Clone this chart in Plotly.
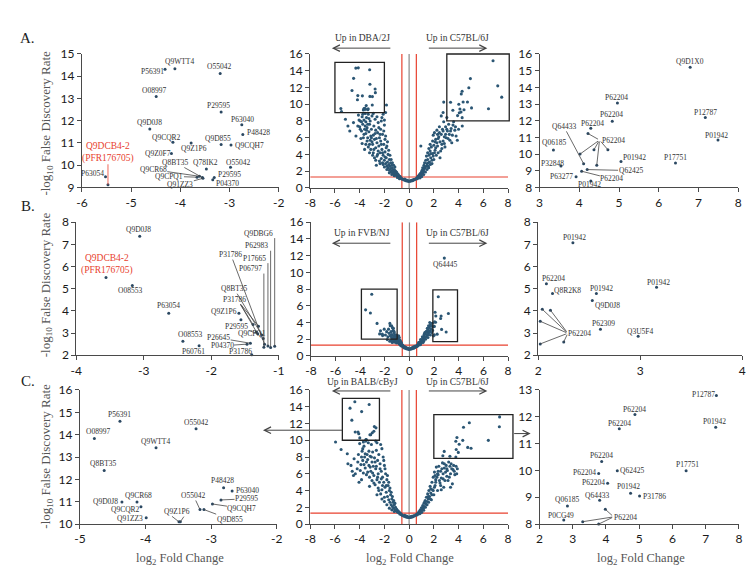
import plotly.graph_objects as go

W, H = 754, 575

# ---------------- Row A : DBA/2J vs C57BL/6J ----------------
A_L_NAMES = ["Q9WTT4", "P56391", "O55042", "O08997", "P29595", "P63040", "P48428", "Q9D0J8",
             "Q9CQR2", "Q9Z1P6", "Q9D855", "Q9CQH7", "Q9Z0F7", "Q9DCB4-2", "P63054", "Q78IK2",
             "O55042", "Q8BT35", "Q9CR68", "Q9CPQ1", "Q91ZZ3", "P29595", "P04370"]
A_L_X = [-4.11, -4.31, -3.19, -4.49, -3.17, -2.75, -2.73, -4.62, -4.15, -3.78, -3.17, -2.97,
         -4.18, -5.47, -5.52, -3.47, -2.98, -3.55, -3.61, -3.66, -3.54, -3.31, -3.34]
A_L_Y = [14.34, 14.31, 14.12, 13.09, 12.39, 11.82, 11.38, 11.63, 11.03, 11.0, 10.93, 10.91,
         10.53, 9.12, 9.48, 9.83, 9.91, 9.44, 9.5, 9.46, 9.41, 9.45, 9.34]

A_R_NAMES = ["Q9D1X0", "P62204", "P12787", "P62204", "P62204", "P01942", "Q06185", "Q64433",
             "P62204", "P62204", "P62204", "P62204", "P62204", "P01942", "P17751", "P32848",
             "Q62425", "P63277", "P62204", "P01942"]
A_R_X = [6.79, 4.96, 7.17, 4.83, 4.29, 7.49, 3.35, 4.11, 4.22, 4.02, 4.37, 4.44, 4.72, 5.05,
         6.42, 3.54, 4.2, 3.92, 4.06, 4.29]
A_R_Y = [15.2, 13.06, 12.19, 11.97, 11.54, 10.84, 10.24, 9.42, 11.23, 10.0, 10.26, 9.33, 10.26,
         9.56, 9.46, 9.28, 9.07, 8.64, 8.97, 8.39]

A_BULK = [(-0.05, 0.78), (0.05, 0.8), (-0.15, 0.82), (0.15, 0.83), (-0.25, 0.85), (0.25, 0.86),
          (-0.3, 0.9), (0.32, 0.9), (-0.4, 0.95), (0.4, 0.97), (-0.45, 1.0), (0.48, 1.02),
          (-0.55, 1.05), (0.55, 1.1), (-0.6, 1.1), (0.62, 1.15), (-0.2, 0.95), (0.2, 0.92),
          (-0.35, 1.05), (0.35, 1.0), (-0.1, 0.88), (0.1, 0.86),
          (-0.65, 1.15), (-0.7, 1.2), (-0.72, 1.35), (-0.75, 1.25), (-0.8, 1.3), (-0.82, 1.45),
          (-0.85, 1.4), (-0.88, 1.6), (-0.9, 1.35), (-0.92, 1.5), (-0.95, 1.7), (-1.0, 1.45),
          (-1.0, 1.6), (-1.02, 1.9), (-1.05, 1.55), (-1.1, 1.7), (-1.1, 2.0), (-1.15, 1.8),
          (-1.2, 1.65), (-1.2, 2.2), (-1.25, 1.9), (-1.3, 2.1), (-1.3, 1.75), (-1.35, 2.4),
          (-1.4, 2.0), (-1.4, 2.7), (-1.45, 1.9), (-1.5, 2.3), (-1.5, 3.0), (-1.55, 2.6),
          (-1.6, 2.1), (-1.6, 3.4), (-1.65, 2.8), (-1.7, 2.4), (-1.7, 4.0), (-1.75, 3.1),
          (-1.8, 2.6), (-1.8, 5.0), (-1.85, 3.6), (-1.9, 2.9), (-1.9, 6.2), (-1.95, 4.3),
          (-2.0, 3.3), (-2.0, 7.5), (-2.05, 5.2), (-2.1, 3.9), (-2.1, 2.8), (-2.15, 6.4),
          (-2.2, 4.6), (-2.2, 8.4), (-2.25, 3.5), (-2.3, 5.6), (-2.3, 7.0), (-2.35, 4.2),
          (-2.4, 6.0), (-2.4, 3.2), (-2.45, 5.0), (-2.5, 7.8), (-2.5, 4.4), (-2.55, 6.6),
          (-2.6, 3.8), (-2.6, 5.4), (-2.65, 2.7), (-2.7, 6.9), (-2.7, 4.8), (-2.75, 8.2),
          (-2.8, 5.8), (-2.8, 3.6), (-2.85, 7.4), (-2.9, 4.2), (-2.9, 6.3), (-2.95, 3.9),
          (-3.0, 8.6), (-3.0, 5.5), (-3.05, 7.0), (-3.1, 4.6), (-3.1, 6.2), (-3.15, 8.0),
          (-3.2, 5.2), (-3.2, 7.6), (-3.25, 6.7), (-3.3, 4.9), (-3.3, 8.8), (-3.35, 6.0),
          (-3.4, 7.2), (-3.4, 5.6), (-3.45, 8.4), (-3.5, 6.5), (-3.5, 7.9), (-3.55, 8.9),
          (-3.6, 4.6), (-3.6, 7.0), (-3.65, 8.1), (-3.7, 6.0), (-3.7, 9.3), (-3.75, 7.6),
          (-3.8, 8.5), (-3.85, 6.8), (-3.9, 5.9), (-3.95, 8.0), (-4.0, 7.3), (-4.1, 8.7),
          (-4.15, 7.4), (-4.3, 6.2), (-4.5, 7.8), (-4.8, 6.8), (-4.95, 7.4), (-5.15, 8.2),
          (-1.83, 9.9), (-1.9, 9.0), (-2.1, 8.8), (-2.0, 8.1),
          (-1.15, 2.5), (-1.25, 2.7), (-1.35, 3.0), (-1.45, 3.4), (-1.55, 3.9), (-1.65, 4.5),
          (-1.75, 5.5), (-1.85, 4.8), (-1.95, 5.8), (-2.05, 6.8), (-2.15, 4.2), (-2.25, 5.2),
          (-2.35, 6.4), (-2.45, 7.2), (-2.55, 4.0), (-2.65, 5.9), (-2.75, 6.5), (-2.85, 4.6),
          (-2.95, 5.2), (-3.05, 6.0), (-3.15, 5.7), (-3.25, 8.3), (-3.35, 7.6), (-3.45, 6.9),
          (-3.55, 7.4), (-3.65, 6.4), (-3.75, 8.8), (-3.85, 7.9), (-3.95, 7.0), (-4.05, 8.1),
          (-2.25, 8.0), (-2.6, 8.5), (-2.9, 8.9), (-1.6, 1.8), (-1.8, 2.2), (-2.0, 2.5),
          (-1.4, 1.6), (-1.2, 1.45), (-0.95, 1.25), (-0.78, 1.1), (-2.35, 2.9), (-2.7, 3.3),
          (-1.95, 3.7), (-2.15, 3.0), (-3.2, 4.2), (-3.5, 5.2), (-3.8, 5.3),
          (0.65, 1.1), (0.7, 1.25), (0.72, 1.4), (0.75, 1.2), (0.8, 1.5), (0.82, 1.3),
          (0.85, 1.6), (0.9, 1.4), (0.92, 1.75), (0.95, 1.5), (1.0, 1.9), (1.0, 1.6),
          (1.05, 2.1), (1.1, 1.8), (1.1, 2.4), (1.15, 2.0), (1.2, 2.7), (1.2, 2.2),
          (1.25, 3.0), (1.3, 2.4), (1.35, 3.3), (1.4, 2.6), (1.4, 3.8), (1.45, 2.9),
          (1.5, 4.2), (1.5, 3.4), (1.55, 2.6), (1.6, 3.9), (1.6, 4.7), (1.65, 3.1),
          (1.7, 4.4), (1.7, 5.2), (1.75, 3.6), (1.8, 4.9), (1.85, 2.9), (1.9, 5.6),
          (1.9, 4.1), (1.95, 6.3), (2.0, 3.4), (2.0, 5.1), (2.05, 6.6), (2.1, 4.5),
          (2.15, 5.8), (2.2, 3.9), (2.25, 6.9), (2.3, 5.0), (2.35, 4.2), (2.4, 6.1),
          (2.45, 7.3), (2.5, 5.5), (2.5, 3.6), (2.6, 6.4), (2.65, 4.7), (2.7, 7.0),
          (2.75, 5.6), (2.8, 7.9), (2.85, 6.1), (2.9, 4.9), (2.95, 7.3), (3.0, 6.0),
          (3.05, 8.4), (3.1, 6.8), (3.2, 7.6), (3.25, 6.4), (3.3, 5.7), (3.4, 7.1),
          (3.5, 6.3), (3.6, 7.9), (3.7, 6.9), (3.8, 6.2), (3.9, 5.7), (4.0, 7.0),
          (4.3, 7.4), (0.95, 5.0), (2.8, 10.25), (2.75, 9.0), (2.6, 8.6),
          (0.88, 1.2), (1.02, 1.35), (1.18, 1.6), (1.32, 1.9), (1.45, 2.2), (1.58, 2.4),
          (1.72, 2.8), (1.85, 3.3), (1.95, 3.8), (2.05, 4.2), (2.15, 4.8), (2.25, 5.4),
          (2.35, 5.9), (2.45, 6.6), (2.55, 4.4), (2.65, 5.2), (2.75, 6.8), (2.85, 5.3),
          (2.95, 6.4), (3.05, 7.0), (3.15, 5.9), (3.35, 6.8), (3.45, 5.4), (3.55, 7.5),
          (3.75, 7.3), (1.25, 2.5), (1.55, 3.0), (1.75, 4.1), (2.1, 5.5), (2.3, 6.4)]

# ---------------- Row B : FVB/NJ vs C57BL/6J ----------------
B_L_NAMES = ["Q9D0J8", "Q9DCB4-2", "O08553", "P63054", "O08553", "P60761", "Q9Z1P6", "",
             "P31786", "P31786", "P31786", "Q8BT35", "P31786", "P29595", "Q9CPQ1", "P26645",
             "P04370", "P31786", "Q9DBG6", "P62983", "P17665", "P06797"]
B_L_X = [-3.06, -3.56, -3.17, -2.63, -2.42, -2.18, -1.59, -1.56, -1.38, -1.3, -1.33, -1.25,
         -1.21, -1.31, -1.23, -1.42, -1.47, -1.4, -1.06, -1.12, -1.16, -1.22]
B_L_Y = [7.37, 5.51, 5.14, 3.89, 2.63, 2.43, 3.89, 3.6, 3.38, 3.31, 3.05, 2.91, 2.5, 2.97,
         2.75, 2.54, 2.5, 2.02, 2.4, 2.35, 2.42, 2.36]

B_R_NAMES = ["P01942", "P62204", "Q8R2K8", "P01942", "Q9D0J8", "P01942", "P62309", "Q3U5F4",
             "P62204", "P62204", "P62204", "P62204", "P62204"]
B_R_X = [2.34, 2.08, 2.14, 2.57, 2.53, 3.16, 2.61, 2.98, 2.04, 2.12, 2.02, 2.02, 2.25]
B_R_Y = [7.07, 5.22, 4.78, 4.78, 4.47, 5.07, 3.17, 2.86, 4.07, 4.03, 3.53, 2.51, 2.6]

B_OTHER_NAMES = ["Q64445"]
B_OTHER_X = [2.83]
B_OTHER_Y = [11.7]

B_BULK = [(-0.05, 0.78), (0.05, 0.8), (-0.15, 0.82), (0.15, 0.84), (-0.25, 0.86), (0.25, 0.88),
          (-0.35, 0.92), (0.35, 0.93), (-0.45, 0.98), (0.45, 1.0), (-0.2, 0.95), (0.2, 0.97),
          (-0.1, 0.9), (0.1, 0.88), (-0.3, 1.02), (0.3, 1.05), (-0.5, 1.08), (0.52, 1.1),
          (-0.4, 1.12), (0.42, 1.15),
          (-0.6, 1.15), (-0.62, 1.3), (-0.68, 1.22), (-0.7, 1.45), (-0.74, 1.3), (-0.78, 1.6),
          (-0.8, 1.4), (-0.84, 1.75), (-0.86, 1.5), (-0.9, 1.9), (-0.92, 1.6), (-0.95, 2.1),
          (-0.97, 1.7), (-1.0, 2.3), (-1.02, 1.8), (-1.05, 1.55), (-1.08, 2.0), (-1.1, 1.75),
          (-1.15, 1.9), (-1.2, 1.65), (-1.25, 1.85), (-1.3, 1.7), (-1.35, 1.9), (-1.4, 1.6),
          (-1.5, 1.85), (-1.6, 1.75), (-1.8, 1.95), (-0.88, 2.4), (-0.82, 2.2), (-0.75, 1.85),
          (-0.66, 1.6), (-1.12, 2.15), (-1.45, 2.2), (-1.55, 2.4), (-1.65, 2.7), (-1.75, 2.3),
          (-1.85, 2.9), (-1.95, 2.5), (-2.05, 3.2), (-2.2, 2.6), (-2.35, 3.0), (-1.7, 3.2),
          (-1.5, 2.9), (-1.45, 3.6),
          (-0.55, 1.3), (-0.72, 1.7), (-0.9, 2.0), (-1.05, 2.5), (-1.2, 2.05), (-1.35, 2.2),
          (-0.65, 1.4), (-0.8, 1.9),
          (0.6, 1.12), (0.64, 1.3), (0.68, 1.2), (0.72, 1.42), (0.76, 1.3), (0.8, 1.55),
          (0.84, 1.45), (0.88, 1.7), (0.92, 1.55), (0.96, 1.85), (1.0, 1.65), (1.04, 2.0),
          (1.08, 1.8), (1.12, 2.2), (1.16, 1.95), (1.2, 2.4), (1.25, 2.1), (1.3, 2.65),
          (1.35, 2.3), (1.4, 2.9), (1.45, 2.5), (1.5, 3.15), (1.55, 2.75), (1.6, 3.4),
          (1.65, 3.0), (1.7, 3.7), (1.75, 3.25), (1.8, 2.8), (1.85, 3.9), (1.9, 3.5),
          (1.3, 2.0), (1.5, 2.2), (1.7, 2.5), (1.1, 1.6), (0.9, 1.35), (1.55, 3.6),
          (1.65, 4.0), (1.45, 3.3), (1.25, 2.8), (1.95, 2.4),
          (0.58, 1.25), (0.74, 1.6), (0.9, 1.95), (1.05, 2.3), (1.2, 2.6), (1.35, 2.9),
          (1.5, 2.55), (1.62, 2.9), (1.75, 3.6), (1.88, 3.05), (1.15, 1.75), (0.82, 1.6)]

# ---------------- Row C : BALB/cByJ vs C57BL/6J ----------------
C_L_NAMES = ["P56391", "O08997", "O55042", "Q9WTT4", "Q8BT35", "P48428", "P63040", "P29595",
             "Q9CQH7", "O55042", "Q9D855", "Q9Z1P6", "Q9Z1P6", "Q9D0J8", "Q9CR68", "Q9CQR2",
             "Q91ZZ3"]
C_L_X = [-4.39, -4.78, -3.23, -3.84, -4.63, -2.81, -2.68, -2.85, -2.98, -3.17, -3.11, -3.49,
         -3.47, -4.36, -4.13, -4.07, -3.99]
C_L_Y = [14.6, 13.83, 14.26, 13.42, 12.4, 11.63, 11.48, 11.08, 10.9, 10.65, 10.65, 10.1, 10.1,
         10.99, 10.99, 10.78, 10.28]

C_R_NAMES = ["P12787", "P62204", "P62204", "P01942", "P62204", "P62204", "Q62425", "P17751",
             "P62204", "P01942", "P31786", "Q64433", "Q06185", "P0CG49", "P62204", "P62204",
             "P62204"]
C_R_X = [7.32, 4.87, 4.4, 7.3, 3.87, 3.78, 4.34, 6.41, 4.05, 4.74, 5.01, 3.81, 2.84, 2.73,
         3.98, 3.3, 3.78]
C_R_Y = [12.79, 12.09, 11.55, 11.61, 10.33, 9.89, 9.99, 9.99, 9.52, 9.15, 9.05, 8.89, 8.67,
         8.15, 8.55, 8.09, 8.0]

C_BULK = [(-0.05, 0.78), (0.05, 0.8), (-0.15, 0.82), (0.15, 0.83), (-0.25, 0.85), (0.25, 0.86),
          (-0.3, 0.9), (0.32, 0.9), (-0.4, 0.95), (0.4, 0.97), (-0.45, 1.0), (0.48, 1.02),
          (-0.55, 1.05), (0.55, 1.1), (-0.6, 1.1), (0.62, 1.15), (-0.2, 0.95), (0.2, 0.92),
          (-0.35, 1.05), (0.35, 1.0), (-0.1, 0.88), (0.1, 0.86),
          (-0.65, 1.15), (-0.7, 1.3), (-0.75, 1.2), (-0.8, 1.45), (-0.85, 1.35), (-0.9, 1.6),
          (-0.95, 1.45), (-1.0, 1.75), (-1.05, 1.6), (-1.1, 2.0), (-1.15, 1.7), (-1.2, 2.3),
          (-1.25, 1.9), (-1.3, 2.6), (-1.35, 2.1), (-1.4, 3.0), (-1.45, 2.3), (-1.5, 3.5),
          (-1.55, 2.6), (-1.6, 4.0), (-1.65, 2.9), (-1.7, 4.6), (-1.75, 3.3), (-1.8, 5.3),
          (-1.85, 3.8), (-1.9, 6.0), (-1.95, 4.4), (-2.0, 7.0), (-2.0, 3.2), (-2.05, 5.0),
          (-2.1, 8.0), (-2.15, 5.6), (-2.2, 4.1), (-2.2, 9.0), (-2.25, 6.3), (-2.3, 3.6),
          (-2.35, 7.2), (-2.4, 5.0), (-2.45, 8.3), (-2.5, 6.0), (-2.5, 4.3), (-2.55, 7.6),
          (-2.6, 5.3), (-2.65, 8.8), (-2.7, 6.6), (-2.7, 9.9), (-2.75, 4.7), (-2.8, 7.9),
          (-2.85, 5.8), (-2.9, 6.9), (-2.95, 8.6), (-3.0, 5.2), (-3.0, 7.4), (-3.05, 9.5),
          (-3.1, 6.3), (-3.15, 8.1), (-3.2, 5.6), (-3.25, 7.0), (-3.3, 9.7), (-3.35, 6.2),
          (-3.4, 8.3), (-3.45, 7.4), (-3.5, 9.9), (-3.55, 6.7), (-3.6, 8.0), (-3.65, 9.3),
          (-3.7, 6.1), (-3.75, 7.6), (-3.8, 8.7), (-3.85, 5.3), (-3.9, 7.1), (-4.0, 9.6),
          (-4.05, 5.0), (-4.1, 8.3), (-4.2, 6.6), (-4.35, 6.0), (-4.45, 7.8), (-4.6, 6.3),
          (-4.95, 7.2), (-5.0, 8.4), (-5.5, 8.9), (-5.95, 9.8), (-3.7, 9.8),
          (-1.15, 2.5), (-1.25, 2.8), (-1.35, 3.3), (-1.45, 3.8), (-1.55, 4.3), (-1.65, 5.0),
          (-1.75, 5.8), (-1.85, 4.6), (-1.95, 6.6), (-2.05, 7.6), (-2.15, 4.6), (-2.25, 5.4),
          (-2.35, 6.6), (-2.45, 4.0), (-2.55, 5.6), (-2.65, 6.9), (-2.75, 7.4), (-2.85, 4.9),
          (-2.95, 6.1), (-3.05, 8.0), (-3.15, 6.8), (-3.25, 8.7), (-3.35, 7.7), (-3.45, 5.9),
          (-3.55, 8.4), (-3.65, 7.1), (-3.75, 9.0), (-3.85, 8.0), (-3.95, 6.4), (-4.15, 7.4),
          (-2.3, 9.5), (-2.6, 9.7), (-1.6, 1.9), (-1.8, 2.3), (-2.0, 2.7), (-1.4, 1.7),
          (-1.2, 1.5), (-2.2, 3.0), (-2.6, 3.5), (-3.2, 4.5), (-4.5, 5.8), (-4.7, 7.0),
          (0.65, 1.1), (0.7, 1.3), (0.75, 1.2), (0.8, 1.5), (0.85, 1.4), (0.9, 1.7),
          (0.95, 1.55), (1.0, 1.95), (1.05, 1.7), (1.1, 2.2), (1.15, 1.9), (1.2, 2.5),
          (1.25, 2.1), (1.3, 2.8), (1.35, 2.4), (1.4, 3.2), (1.45, 2.7), (1.5, 3.6),
          (1.55, 3.0), (1.6, 4.0), (1.65, 3.3), (1.7, 4.5), (1.75, 3.7), (1.8, 2.9),
          (1.85, 5.0), (1.9, 4.1), (1.95, 5.6), (2.0, 3.5), (2.05, 6.2), (2.1, 4.6),
          (2.15, 5.3), (2.2, 6.8), (2.3, 4.0), (2.35, 5.9), (2.4, 6.9), (2.5, 4.9),
          (2.55, 6.3), (2.6, 5.5), (2.7, 7.3), (2.75, 6.0), (2.8, 4.4), (2.85, 6.7),
          (2.9, 5.2), (3.0, 7.0), (3.05, 5.7), (3.1, 6.4), (3.2, 7.4), (3.25, 5.6),
          (3.3, 6.9), (3.35, 4.4), (3.4, 7.2), (3.5, 4.8), (3.55, 6.5), (3.6, 7.0),
          (3.7, 5.9), (3.8, 6.9), (3.9, 6.6), (2.6, 4.1),
          (0.88, 1.25), (1.02, 1.4), (1.18, 1.65), (1.32, 2.0), (1.45, 2.3), (1.58, 2.6),
          (1.72, 3.0), (1.85, 3.5), (1.95, 4.0), (2.05, 4.4), (2.15, 5.0), (2.25, 5.6),
          (2.35, 6.3), (2.45, 5.2), (2.55, 4.6), (2.65, 6.6), (2.75, 5.4), (2.85, 7.2),
          (2.95, 6.2), (3.05, 6.6), (3.15, 5.2), (3.35, 6.0), (3.45, 6.6), (3.65, 6.3),
          (3.85, 6.0), (1.25, 2.6), (1.55, 3.3), (1.75, 4.2), (2.1, 5.8), (2.3, 6.0)]

# ---------------- text of the figure ----------------
ROW_LETTERS = ["A.", "B.", "C."]
UP_LEFT = ["Up in DBA/2J", "Up in FVB/NJ", "Up in BALB/cByJ"]
UP_RIGHT = "Up in C57BL/6J"
Y_TITLE = "-log<sub>10</sub> False Discovery Rate"
X_TITLE = "log<sub>2</sub> Fold Change"
RED_NAME = "Q9DCB4-2"
RED_TEXT = "Q9DCB4-2<br>(PFR176705)"
FC_CUT = 0.585   # log2(1.5)
FDR_CUT = 1.3    # -log10(0.05)

# ---------------- label placement (layout, data units) ----------------
A_L_LAB = [(-4.01, 14.66, None), (-4.56, 14.2, None), (-3.21, 14.42, None), (-4.54, 13.38, None),
           (-3.23, 12.68, None), (-2.73, 12.07, None), (-2.42, 11.45, None), (-4.63, 11.92, None),
           (-4.28, 11.25, None), (-3.72, 10.75, None), (-3.24, 11.18, None), (-2.6, 10.87, None),
           (-4.46, 10.53, None), (-5.47, 10.58, 'a'), (-5.78, 9.62, None), (-3.49, 10.14, None),
           (-2.82, 10.14, None), (-4.1, 10.12, 'a'), (-4.55, 9.8, 'a'), (-4.22, 9.5, 'a'),
           (-4.0, 9.13, 'a'), (-3.0, 9.6, None), (-3.05, 9.19, None)]
A_R_LAB = [(6.78, 15.55, None), (4.93, 13.41, None), (7.17, 12.51, None), (4.8, 12.4, None),
           (4.34, 11.85, None), (7.44, 11.11, None), (3.37, 10.69, None), (3.61, 11.66, 'a'),
           (4.85, 10.84, (4.51, 10.84)), (None, None, (4.51, 10.84)), (None, None, (4.51, 10.84)),
           (None, None, (4.51, 10.84)), (None, None, (4.51, 10.84)), (5.38, 9.79, None),
           (6.42, 9.79, None), (3.32, 9.42, None), (5.29, 9.01, 'a'), (3.55, 8.66, None),
           (4.82, 8.51, 'a'), (4.27, 8.16, None)]
B_L_LAB = [(-3.08, 7.67, None), (-3.55, 6.08, None), (-3.21, 4.92, None), (-2.63, 4.23, None),
           (-2.32, 2.93, None), (-2.27, 2.18, None), (-1.81, 3.97, None), (None, None, None),
           (-1.66, 4.5, (-1.58, 4.36)), (None, None, (-1.58, 4.36)), (None, None, (-1.58, 4.36)),
           (-1.66, 5.0, 'a'), (-1.71, 6.54, 'a'), (-1.62, 3.3, 'a'), (-1.4, 2.98, 'a'),
           (-1.89, 2.78, 'a'), (-1.84, 2.42, 'a'), (-1.57, 2.18, None),
           (-1.3, 7.5, (-1.06, 7.35)), (-1.33, 6.93, (-1.12, 6.78)),
           (-1.36, 6.38, (-1.16, 6.22)), (-1.42, 5.9, (-1.22, 5.75))]
B_R_LAB = [(2.36, 7.3, None), (2.15, 5.44, None), (2.29, 4.93, None), (2.62, 5.03, None),
           (2.68, 4.24, None), (3.18, 5.28, None), (2.64, 3.42, None), (3.0, 3.05, None),
           (2.4, 2.99, (2.29, 2.99)), (None, None, (2.29, 2.99)), (None, None, (2.29, 2.99)),
           (None, None, (2.29, 2.99)), (None, None, (2.29, 2.99))]
B_OTHER_LAB = [(2.9, 10.9, None)]
C_L_LAB = [(-4.4, 14.91, None), (-4.73, 14.13, None), (-3.23, 14.53, None), (-3.85, 13.68, None),
           (-4.64, 12.72, None), (-2.83, 11.93, None), (-2.45, 11.51, None), (-2.46, 11.13, 'a'),
           (-2.53, 10.7, 'a'), (-3.27, 11.28, 'a'), (-2.72, 10.22, 'a'),
           (-3.52, 10.58, (-3.62, 10.4)), (None, None, (-3.4, 10.4)), (-4.61, 10.99, None),
           (-4.11, 11.29, None), (-4.31, 10.65, None), (-4.23, 10.26, None)]
C_R_LAB = [(6.92, 12.83, None), (4.86, 12.28, None), (4.4, 11.76, None), (7.26, 11.82, None),
           (3.87, 10.55, None), (3.36, 9.91, None), (4.79, 9.98, None), (6.46, 10.21, None),
           (3.63, 9.54, None), (4.69, 9.4, None), (5.47, 9.02, None), (3.74, 9.08, None),
           (2.84, 8.91, None), (2.66, 8.31, None), (4.6, 8.25, (4.23, 8.27)),
           (None, None, (4.23, 8.27)), (None, None, (4.23, 8.27))]

# ---------------- geometry ----------------
DOM_PX = {1: ((69, 269), (39, 176)), 2: ((301, 502), (39, 176.5)), 3: ((534, 736), (39, 176)),
          4: ((63.3, 269), (211.7, 348.3)), 5: ((301.7, 502), (211.7, 349)), 6: ((532.7, 740), (211.7, 348.3)),
          7: ((67, 267), (384, 521.7)), 8: ((301, 502), (384, 521.7)), 9: ((534, 736.7), (384, 521.7))}
RANGES = {1: ((-6, -2, 1), (9, 15, 1)), 2: ((-8, 8, 2), (0, 16, 2)), 3: ((3, 8, 1), (8, 16, 1)),
          4: ((-4, -1, 1), (2, 8, 1)), 5: ((-8, 8, 2), (0, 16, 2)), 6: ((2, 4, 1), (2, 8, 1)),
          7: ((-5, -2, 1), (10, 16, 1)), 8: ((-8, 8, 2), (0, 16, 2)), 9: ((2, 8, 1), (8, 13, 1))}
BOXES = {2: [(-6, -2, 9, 15), (3.05, 8.1, 8, 16)],
         5: [(-3.9, -1.0, 2, 8), (1.9, 3.9, 1.7, 7.9)],
         8: [(-5.4, -2.4, 10, 15), (2.0, 8.4, 7.83, 13.05)]}

DOT = '#2b4862'
VDOT = '#2b5674'
RED = '#e8412e'
AX = '#4a4a4a'
TXT = '#333333'
SERIF = 'Liberation Serif, Times New Roman, serif'
SANS = 'Lato, Open Sans, sans-serif'


def ref(k):
    return ('x' if k == 1 else f'x{k}'), ('y' if k == 1 else f'y{k}')


def to_px(k, x, y):
    (px0, px1), (py0, py1) = DOM_PX[k]
    (x0, x1, _), (y0, y1, _) = RANGES[k]
    return px0 + (x - x0) / (x1 - x0) * (px1 - px0), py1 - (y - y0) / (y1 - y0) * (py1 - py0)


def paper_text(px, py, text, font, **kw):
    d = dict(x=px / W, y=1 - py / H, xref='paper', yref='paper', text=text, showarrow=False,
             xanchor='center', yanchor='middle', font=font)
    d.update(kw)
    return d


def paper_arrow(tip_px, tip_py, dx, dy):
    return dict(x=tip_px / W, y=1 - tip_py / H, xref='paper', yref='paper', ax=dx, ay=dy,
                text='', showarrow=True, arrowhead=5, arrowsize=1.3, arrowwidth=1,
                arrowcolor='#444', xanchor='center', yanchor='middle')


fig = go.Figure()
layout = dict(width=W, height=H, margin=dict(l=0, r=0, t=0, b=0), showlegend=False,
              plot_bgcolor='white', paper_bgcolor='white')
annotations = []
shapes = []

for k in range(1, 10):
    (px0, px1), (py0, py1) = DOM_PX[k]
    (x0, x1, dx), (y0, y1, dy) = RANGES[k]
    xt = list(range(x0, x1 + 1, dx))
    yt = list(range(y0, y1 + 1, dy))
    xr, yr = ref(k)
    common = dict(showgrid=False, zeroline=False, showline=True, linecolor=AX, linewidth=1,
                  ticks='outside', ticklen=4, tickcolor=AX, tickwidth=1,
                  tickfont=dict(family=SANS, size=12, color='#1a1a1a'), fixedrange=True)
    layout['xaxis' if k == 1 else f'xaxis{k}'] = dict(
        domain=[px0 / W, px1 / W], range=[x0, x1], anchor=yr,
        tickvals=xt, ticktext=[str(t) for t in xt], **common)
    layout['yaxis' if k == 1 else f'yaxis{k}'] = dict(
        domain=[1 - py1 / H, 1 - py0 / H], range=[y0, y1], anchor=xr,
        tickvals=yt, ticktext=[str(t) for t in yt], **common)


def add_panel(k, names, xs, ys, labs):
    xr, yr = ref(k)
    fig.add_trace(go.Scatter(x=xs, y=ys, mode='markers', xaxis=xr, yaxis=yr, cliponaxis=False,
                             marker=dict(size=3, color=DOT), hoverinfo='skip'))
    for n, x, y, (lx, ly, tail) in zip(names, xs, ys, labs):
        red = (n == RED_NAME)
        text = RED_TEXT if red else n
        col = RED if red else TXT
        font = dict(family=SERIF, size=9.5 if red else 7.5, color=col)
        if tail == 'a':
            annotations.append(dict(x=x, y=y, xref=xr, yref=yr, ax=lx, ay=ly, axref=xr, ayref=yr,
                                    text=text, showarrow=True, arrowhead=0, arrowwidth=0.8,
                                    arrowcolor=col if red else '#444', font=font, borderpad=0))
            continue
        if lx is not None:
            annotations.append(dict(x=lx, y=ly, xref=xr, yref=yr, text=text, showarrow=False,
                                    xanchor='center', yanchor='middle', font=font))
        if tail is not None:
            annotations.append(dict(x=x, y=y, xref=xr, yref=yr, ax=tail[0], ay=tail[1],
                                    axref=xr, ayref=yr, text='', showarrow=True, arrowhead=0,
                                    arrowwidth=0.8, arrowcolor='#444'))


add_panel(1, A_L_NAMES, A_L_X, A_L_Y, A_L_LAB)
add_panel(3, A_R_NAMES, A_R_X, A_R_Y, A_R_LAB)
add_panel(4, B_L_NAMES, B_L_X, B_L_Y, B_L_LAB)
add_panel(6, B_R_NAMES, B_R_X, B_R_Y, B_R_LAB)
add_panel(7, C_L_NAMES, C_L_X, C_L_Y, C_L_LAB)
add_panel(9, C_R_NAMES, C_R_X, C_R_Y, C_R_LAB)

# volcano plots
VOLC = {2: (A_L_X + A_R_X + [p[0] for p in A_BULK], A_L_Y + A_R_Y + [p[1] for p in A_BULK]),
        5: (B_L_X + B_R_X + B_OTHER_X + [p[0] for p in B_BULK],
            B_L_Y + B_R_Y + B_OTHER_Y + [p[1] for p in B_BULK]),
        8: (C_L_X + C_R_X + [p[0] for p in C_BULK], C_L_Y + C_R_Y + [p[1] for p in C_BULK])}

for i, k in enumerate([2, 5, 8]):
    xr, yr = ref(k)
    vx, vy = VOLC[k]
    for xv, c in [(-FC_CUT, RED), (FC_CUT, RED), (0, '#8a8a8a')]:
        shapes.append(dict(type='line', xref=xr, yref=yr, x0=xv, x1=xv, y0=0, y1=16,
                           line=dict(color=c, width=1.2), layer='below'))
    shapes.append(dict(type='line', xref=xr, yref=yr, x0=-8, x1=8, y0=FDR_CUT, y1=FDR_CUT,
                       line=dict(color=RED, width=1.2), layer='below'))
    fig.add_trace(go.Scatter(x=vx, y=vy, mode='markers', xaxis=xr, yaxis=yr, cliponaxis=False,
                             marker=dict(size=3.1, color=VDOT), hoverinfo='skip'))
    for (bx0, bx1, by0, by1) in BOXES[k]:
        p0 = to_px(k, bx0, by0)
        p1 = to_px(k, bx1, by1)
        shapes.append(dict(type='rect', xref='paper', yref='paper', x0=p0[0] / W, x1=p1[0] / W,
                           y0=1 - p0[1] / H, y1=1 - p1[1] / H, line=dict(color='#222', width=1.3)))

for n, (lx, ly, _) in zip(B_OTHER_NAMES, B_OTHER_LAB):
    annotations.append(dict(x=lx, y=ly, xref='x5', yref='y5', text=n, showarrow=False,
                            xanchor='center', yanchor='middle',
                            font=dict(family=SERIF, size=7.5, color=TXT)))

# "Up in ..." texts and arrows
UP_TEXT_Y = [22.7, 223.3, 375.7]
UP_ARROW_Y = [33, 233.3, 385]
up_font = dict(family=SERIF, size=9.5, color=TXT)
for i in range(3):
    ty, ay = UP_TEXT_Y[i], UP_ARROW_Y[i]
    annotations.append(paper_text(354, ty, UP_LEFT[i], up_font))
    annotations.append(paper_text(451, ty, UP_RIGHT, up_font))
    annotations.append(paper_arrow(323, ay, 60, 0))
    annotations.append(paper_arrow(481, ay, -60, 0))

# arrows from the C boxes to their zoom panels
lt = to_px(8, -5.4, 11.2)
annotations.append(paper_arrow(253, lt[1], lt[0] - 253, 0))
rt = to_px(8, 8.4, 10.8)
annotations.append(paper_arrow(525, rt[1], rt[0] - 525, 0))

# row letters and axis titles
LETTER_Y = [22.7, 195, 375]
YT_Y = [110, 276, 452]
for i in range(3):
    annotations.append(paper_text(14, LETTER_Y[i], ROW_LETTERS[i],
                                  dict(family=SERIF, size=15, color='#222')))
    annotations.append(paper_text(33, YT_Y[i], Y_TITLE, dict(family=SERIF, size=13, color='#555'),
                                  textangle=-90))
for cx in [169, 402.5, 637]:
    annotations.append(paper_text(cx, 557.5, X_TITLE, dict(family=SERIF, size=12.5, color='#555')))

layout['annotations'] = annotations
layout['shapes'] = shapes
fig.update_layout(**layout)
fig.write_html("out.html", config={'displayModeBar': False})
